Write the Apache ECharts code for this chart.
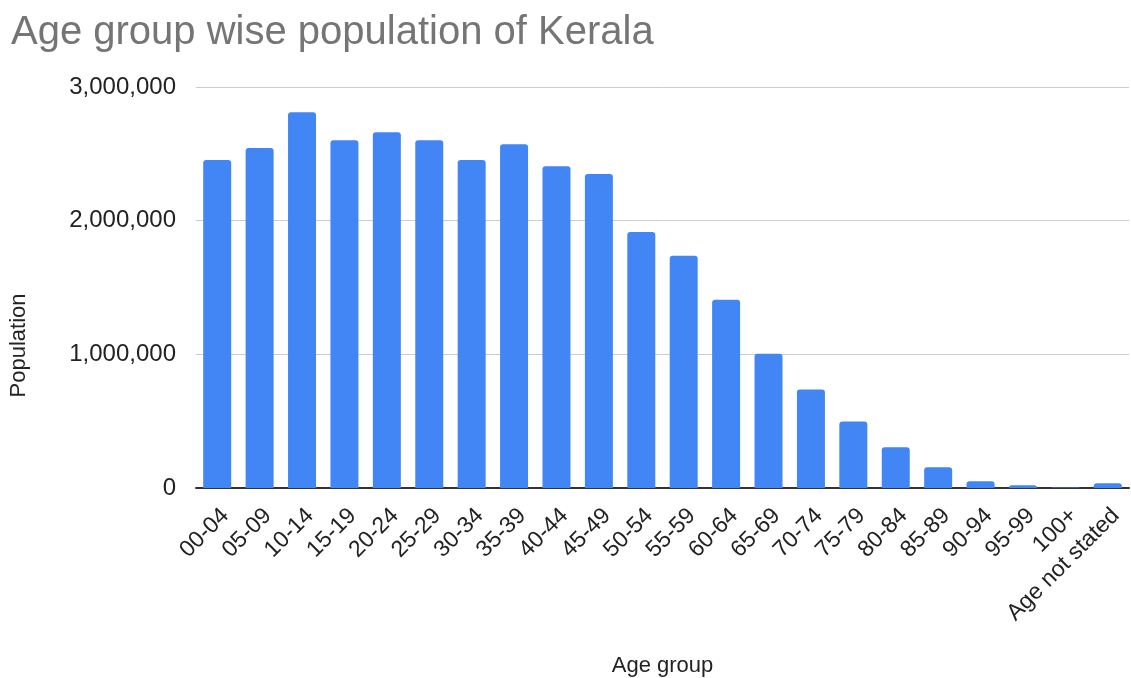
<!DOCTYPE html>
<html>
<head>
<meta charset="utf-8">
<script src="https://cdn.jsdelivr.net/npm/echarts@6/dist/echarts.min.js"></script>
<style>
html,body{margin:0;padding:0;background:#fff;}
#main{width:1131px;height:678px;}
</style>
</head>
<body>
<div id="main"></div>
<script>
var categories = ['00-04','05-09','10-14','15-19','20-24','25-29','30-34','35-39','40-44','45-49','50-54','55-59','60-64','65-69','70-74','75-79','80-84','85-89','90-94','95-99','100+','Age not stated'];
var population = [2453000,2543000,2811000,2602000,2662000,2602000,2453000,2572000,2408000,2349000,1916000,1737000,1408000,1005000,737000,498000,304000,155000,50000,20000,3000,35000];
var yTicks = [0, 1000000, 2000000, 3000000];

var FONT = 'Arial, "Liberation Sans", sans-serif';
var chart = echarts.init(document.getElementById('main'));
chart.setOption({
  animation: false,
  backgroundColor: '#fff',
  title: {
    text: 'Age group wise population of Kerala',
    left: 6, top: 8,
    textStyle: {fontFamily: FONT, fontSize: 40, fontWeight: 'normal', color: '#757575'}
  },
  grid: {left: 196, right: 2, top: 87, bottom: 190, containLabel: false, outerBoundsMode: 'none'},
  xAxis: {
    type: 'category',
    data: categories,
    name: 'Age group',
    nameLocation: 'middle',
    nameGap: 167,
    nameTextStyle: {fontFamily: FONT, fontSize: 22, color: '#222'},
    axisLine: {lineStyle: {color: '#333', width: 2}},
    axisTick: {show: false},
    axisLabel: {rotate: 45, interval: 0, margin: 16, verticalAlign: 'top', fontFamily: FONT, fontSize: 23, color: '#222'}
  },
  yAxis: {
    type: 'value',
    min: yTicks[0], max: yTicks[yTicks.length - 1], interval: yTicks[1] - yTicks[0],
    name: 'Population',
    nameLocation: 'middle',
    nameGap: 166,
    nameTextStyle: {fontFamily: FONT, fontSize: 22, color: '#222', padding: [0, 116, 0, 0]},
    axisLine: {show: false},
    axisTick: {show: false},
    splitLine: {lineStyle: {color: '#cccccc', width: 1}},
    axisLabel: {
      margin: 20, fontFamily: FONT, fontSize: 24, color: '#222', padding: [8, 0, 0, 0],
      formatter: function (v) { return v.toLocaleString('en-US'); }
    }
  },
  series: [{
    type: 'bar',
    data: population,
    barCategoryGap: '34%',
    itemStyle: {color: '#4285F4', borderRadius: [3, 3, 0, 0]}
  }]
});
</script>
</body>
</html>
